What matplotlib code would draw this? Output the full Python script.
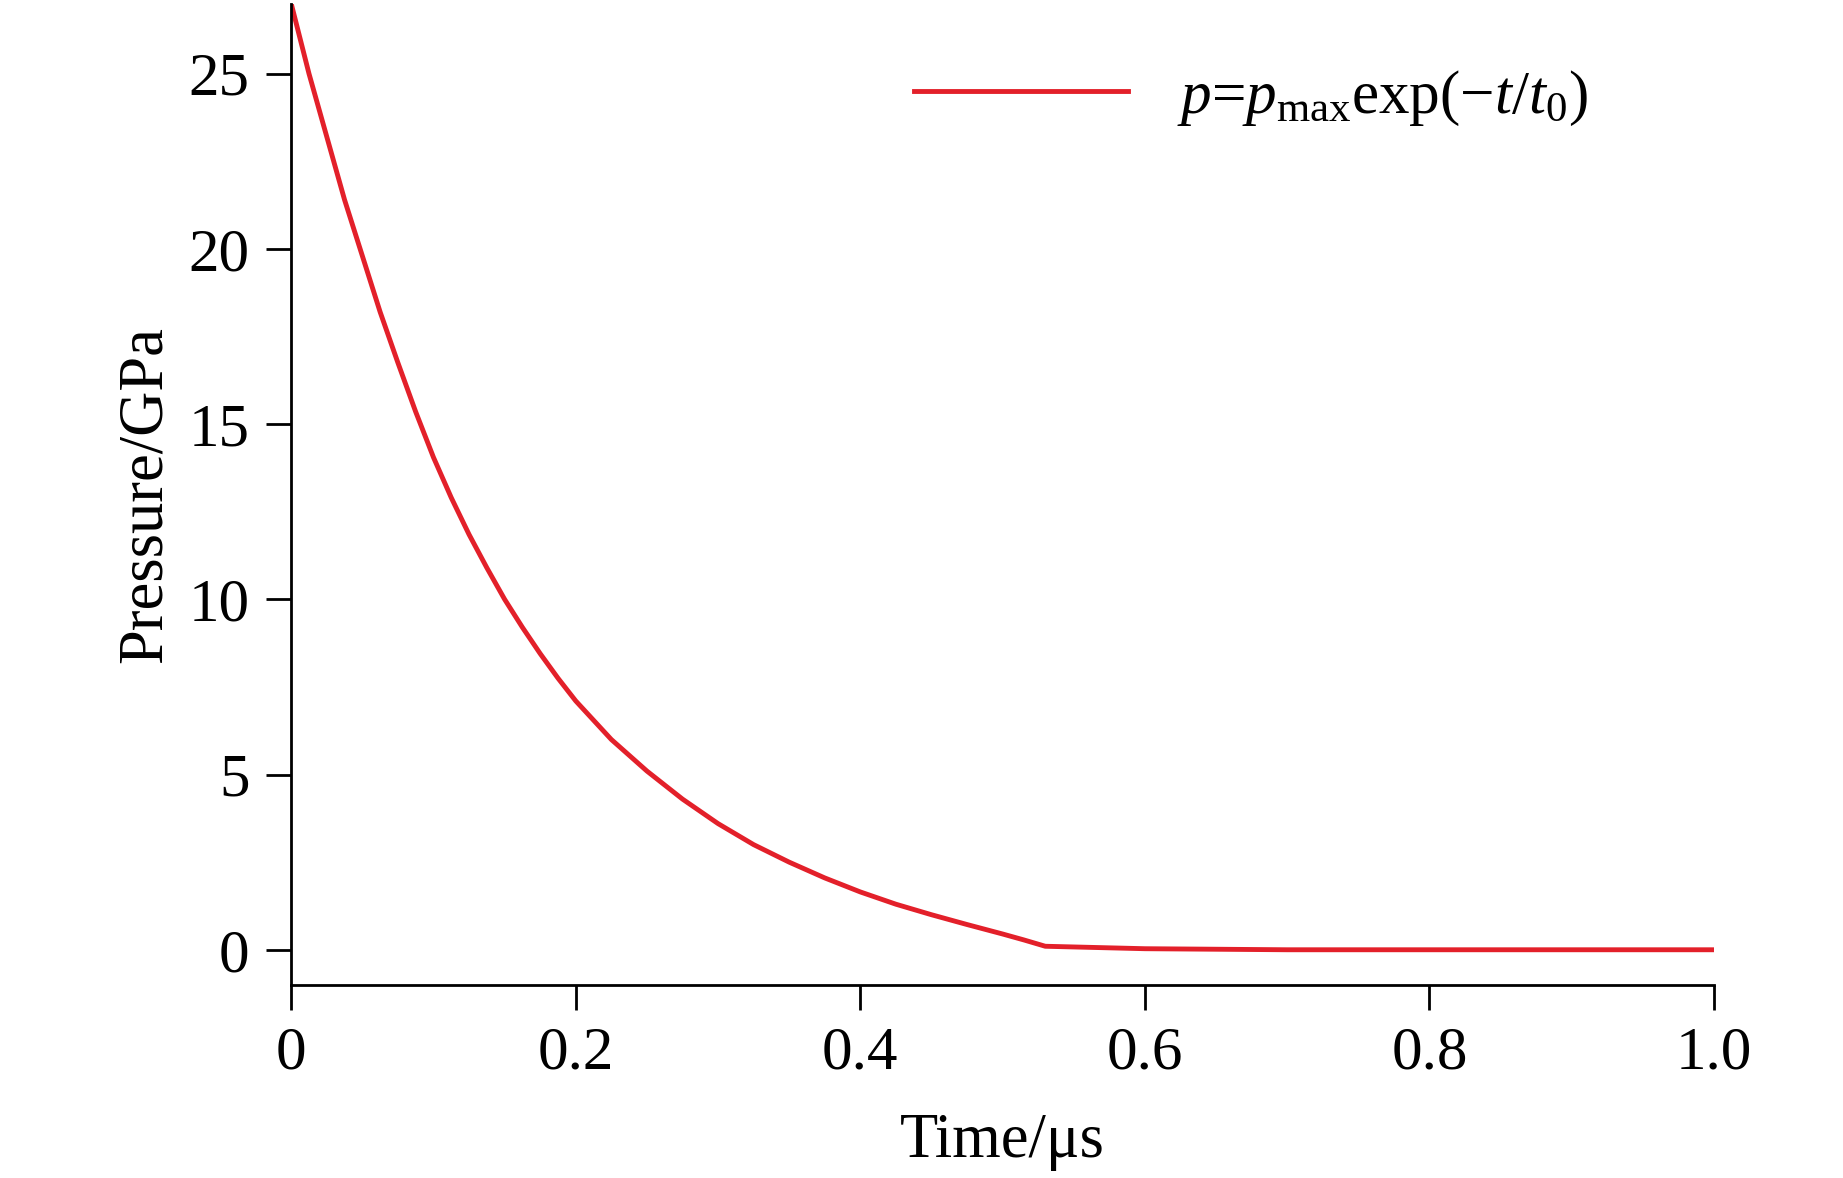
import matplotlib
matplotlib.use("Agg")
import matplotlib.pyplot as plt

time_us = [0, 0.0125, 0.025, 0.0375, 0.05, 0.0625, 0.075, 0.0875, 0.1, 0.1125, 0.125, 0.1375, 0.15,
           0.1625, 0.175, 0.1875, 0.2, 0.225, 0.25, 0.275, 0.3, 0.325, 0.35, 0.375, 0.4, 0.425,
           0.45, 0.475, 0.5, 0.515, 0.53, 0.6, 0.7, 0.8, 0.9, 1.0]
pressure = [27.0, 25.0, 23.2, 21.4, 19.8, 18.2, 16.75, 15.35, 14.05, 12.9, 11.85, 10.9, 10.0,
            9.2, 8.45, 7.75, 7.1, 6.0, 5.1, 4.3, 3.6, 3.0, 2.5, 2.05, 1.65, 1.3,
            1.0, 0.72, 0.45, 0.28, 0.1, 0.03, 0.0, 0.0, 0.0, 0.0]
xticks = [0, 0.2, 0.4, 0.6, 0.8, 1.0]
xticklabels = ["0", "0.2", "0.4", "0.6", "0.8", "1.0"]
yticks = [0, 5, 10, 15, 20, 25]

plt.rcParams['font.family'] = ['Liberation Serif', 'DejaVu Serif']
plt.rcParams['mathtext.fontset'] = 'custom'
plt.rcParams['mathtext.rm'] = 'Liberation Serif'
plt.rcParams['mathtext.it'] = 'Liberation Serif:italic'

fig = plt.figure(figsize=(18.43, 11.78), dpi=100)
ax = fig.add_axes([0.158, 0.164, 0.772, 0.833])
ax.plot(time_us, pressure, color='#e3202a', lw=3.5,
        label=r'$p$=$p_{\rm max}$exp(−$t$/$t_0$)')
ax.set_xlim(0, 1.0)
ax.set_ylim(-1, 27)
ax.set_xticks(xticks)
ax.set_xticklabels(xticklabels)
ax.set_yticks(yticks)
ax.tick_params(labelsize=44, width=2, length=18, direction='out', pad=12)
for s in ['top', 'right']:
    ax.spines[s].set_visible(False)
for s in ['left', 'bottom']:
    ax.spines[s].set_linewidth(2)
ax.set_xlabel('Time/μs', fontsize=45, labelpad=22)
ax.set_ylabel('Pressure/GPa', fontsize=45, labelpad=10)
ax.legend(loc='upper right', frameon=False, fontsize=44, handlelength=3.5,
          bbox_to_anchor=(0.95, 0.99))
fig.savefig('out.png', dpi=100)
